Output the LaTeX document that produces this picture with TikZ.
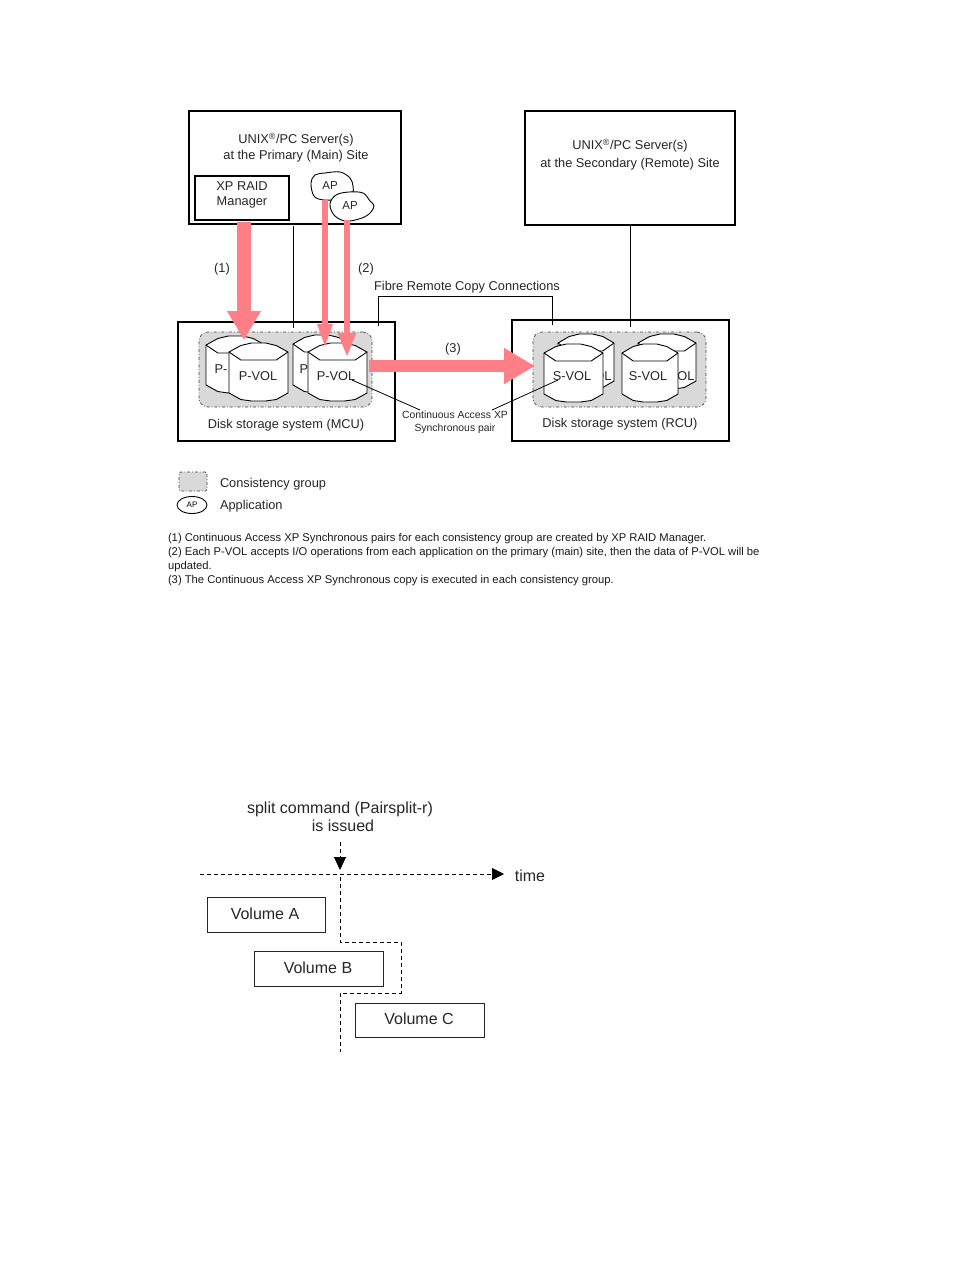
\documentclass[tikz,border=0pt]{standalone}
\usepackage{fontspec}
\setmainfont{Liberation Sans}
\usetikzlibrary{arrows.meta,shapes.geometric}
\definecolor{pinkarrow}{HTML}{FF7F86}
\definecolor{groupgray}{HTML}{D9D9D9}
\newcommand{\cylshape}[6]{%
  \pgfmathsetmacro{\cw}{#4-#2}%
  \pgfmathsetmacro{\cA}{#2+.2*\cw}\pgfmathsetmacro{\cB}{#2+.38*\cw}%
  \pgfmathsetmacro{\cC}{#2+.62*\cw}\pgfmathsetmacro{\cD}{#2+.8*\cw}%
  \pgfmathsetmacro{\tA}{#3+9}\pgfmathsetmacro{\tB}{#3+2.5}\pgfmathsetmacro{\tC}{#3+17}%
  \pgfmathsetmacro{\bA}{#5-8}\pgfmathsetmacro{\bB}{#5-1.5}%
  \draw[cylline] (#2,\tA) -- (\cA,\tB) -- (\cB,#3) -- (\cC,#3) -- (\cD,\tB) -- (#4,\tA)
    -- (#4,\bA) -- (\cD,\bB) -- (\cC,#5) -- (\cB,#5) -- (\cA,\bB) -- (#2,\bA) -- cycle;
  \draw[cylline,fill=none] (#2,\tA) -- (\cA,\tC) -- (\cD,\tC) -- (#4,\tA);
}
\tikzset{
  x=1pt,y=-1pt,
  txt/.style={inner sep=0pt,outer sep=0pt,align=center,yshift=-1pt,font=\fontsize{12.8}{15}\selectfont,text=black!85},
  heavybox/.style={draw=black,line width=1.9pt,fill=white,inner sep=0pt,outer sep=0pt},
  thinbox/.style={draw=black!85,line width=1pt,fill=white,inner sep=0pt,outer sep=0pt},
  group/.style={draw=black!75,fill=groupgray,line width=.7pt,dash dot,rounded corners=9pt,inner sep=0pt,outer sep=0pt},
  cylline/.style={draw=black,line width=.9pt,fill=white,line join=round},
  apblob/.style={draw=black,line width=.9pt,fill=white},
  aptext/.style={inner sep=0pt,outer sep=0pt,font=\fontsize{11.5}{13}\selectfont,text=black!85},
  apnode/.style={ellipse,draw=black,line width=.9pt,fill=white,inner sep=0pt,outer sep=0pt},
  link/.style={draw=black,line width=.8pt},
  bigarrow/.style={draw=pinkarrow,line width=#1},
  dashline/.style={draw=black,line width=.9pt,dash pattern=on 4pt off 3pt},
  note/.style={anchor=west,inner sep=0pt,outer sep=0pt,yshift=-1.5pt,font=\fontsize{11.25}{13}\selectfont,text=black!90},
  tl/.style={txt,font=\fontsize{16}{18}\selectfont},
}
\begin{document}
\begin{tikzpicture}
\useasboundingbox (0,0) rectangle (954,1270);
% server and storage boxes
\node[heavybox,minimum width=212pt,minimum height=113pt] (primary) at (295,167.5) {};
\node[heavybox,minimum width=210pt,minimum height=114pt] (secondary) at (630,168) {};
\node[heavybox,minimum width=217pt,minimum height=119pt] (mcu) at (286.5,381.5) {};
\node[heavybox,minimum width=217pt,minimum height=121pt] (rcu) at (620.5,380.5) {};
\node[txt] (ptext) at (296,147) {UNIX\textsuperscript{®}/PC Server(s)\\[1pt]at the Primary (Main) Site};
\node[txt] (stext) at (630,154) {UNIX\textsuperscript{®}/PC Server(s)\\[3pt]at the Secondary (Remote) Site};
\node[heavybox,minimum width=94pt,minimum height=44pt] (raid) at (242,198) {};
\node[txt] (raidtext) at (242,193.5) {XP RAID\\Manager};
% links
\coordinate (p1) at (293,226); \coordinate (m1) at (293,328);
\coordinate (s1) at (630,226); \coordinate (r1) at (630,327);
\coordinate (f1) at (378.5,326); \coordinate (f2) at (552,325);
\draw[link] (p1) -- (m1);
\draw[link] (s1) -- (r1);
\draw[link] (f1) |- (f2 |- 0,296) -- (f2);
\node[txt] (fibre) at (467,286) {Fibre Remote Copy Connections};
% groups
\node[group,minimum width=173pt,minimum height=75pt] (gl) at (285.5,369.5) {};
\node[group,minimum width=173pt,minimum height=75pt] (gr) at (619.5,369.5) {};
% back cylinders
\cylshape{b1}{206}{336}{265}{393}{}
\cylshape{b2}{293}{335}{350}{393}{}
\cylshape{b3}{558}{334}{614}{389}{}
\cylshape{b4}{638}{334}{696}{389}{}
\node[txt] (bt1) at (221,368) {P-};
\node[txt] (bt2) at (304,368) {P};
\node[txt] (bt3) at (603,375) {OL};
\node[txt] (bt4) at (686,375) {OL};
% front cylinders
\cylshape{f1}{229}{343}{288}{401}{}
\cylshape{f2}{308}{343}{367}{401}{}
\cylshape{f3}{544}{344}{603}{402}{}
\cylshape{f4}{622}{344}{678}{402}{}
% pair lines
\coordinate (pv) at (352,380); \coordinate (sv) at (558,380);
\coordinate (pa) at (420,410); \coordinate (pb) at (492,410);
\draw[link] (pv) -- (pa);
\draw[link] (sv) -- (pb);
\node[txt] (v1) at (258,375) {P-VOL};
\node[txt] (v2) at (336,375) {P-VOL};
\node[txt] (v3) at (572,375) {S-VOL};
\node[txt] (v4) at (648,375) {S-VOL};
% application nodes
\draw[apblob] plot[smooth cycle,tension=.6] coordinates {(311,183) (315,175) (325,173) (340,172) (350,178) (353,186) (352,194) (340,199) (324,200) (314,196)};
\node[aptext] (ap1) at (330,186) {AP};
\coordinate (a2s) at (325,200);
\coordinate (a3s) at (347,220);
\coordinate (r1s) at (244,222);
\coordinate (r1e) at (244,340);
\coordinate (a2e) at (325,348);
\coordinate (a3e) at (347,357);
\coordinate (c1) at (369,366);
\coordinate (c2) at (535,366);
\draw[bigarrow=14pt,-{Triangle[length=29pt,width=32pt]}] (r1s) -- (r1e);
\draw[bigarrow=5.5pt,-{Triangle[length=24pt,width=14pt]}] (a2s) -- (a2e);
\draw[apblob] plot[smooth cycle,tension=.6] coordinates {(330,204) (336,195) (349,192) (363,193) (370,201) (374,206) (369,214) (359,219) (345,221) (334,215)};
\node[aptext] (ap2) at (350,206) {AP};
\draw[bigarrow=5.5pt,-{Triangle[length=24pt,width=17pt]}] (a3s) -- (a3e);
\draw[bigarrow=12pt,-{Triangle[length=31pt,width=34pt]}] (c1) -- (c2);
% labels
\node[txt] (l1) at (222,268) {(1)};
\node[txt] (l2) at (366,268) {(2)};
\node[txt] (l3) at (453,348) {(3)};
\node[txt,font=\fontsize{10.4}{13}\selectfont] (pair) at (455,421) {Continuous Access XP\\Synchronous pair};
\node[txt] (mcut) at (286,424) {Disk storage system (MCU)};
\node[txt] (rcut) at (620,423) {Disk storage system (RCU)};
% legend
\node[group,rounded corners=1.5pt,minimum width=28pt,minimum height=19pt] (lg) at (193,481.5) {};
\node[txt,anchor=west] (lgt) at (220,483) {Consistency group};
\node[apnode,minimum width=30pt,minimum height=17pt,font=\fontsize{8}{9}\selectfont] (la) at (192,505) {AP};
\node[txt,anchor=west] (lat) at (220,505) {Application};
% notes
\node[note] (n1) at (168,537) {(1) Continuous Access XP Synchronous pairs for each consistency group are created by XP RAID Manager.};
\node[note] (n2) at (168,551) {(2) Each P-VOL accepts I/O operations from each application on the primary (main) site, then the data of P-VOL will be};
\node[note] (n3) at (168,565) {updated.};
\node[note] (n4) at (168,579) {(3) The Continuous Access XP Synchronous copy is executed in each consistency group.};
% timing diagram
\node[tl] (split) at (340,816) {split command (Pairsplit-r)\\\hspace*{6pt}is issued};
\node[tl] (time) at (530,875) {time};
\coordinate (ts) at (200,874); \coordinate (te) at (504,874);
\coordinate (ds) at (340,842); \coordinate (de) at (340,870);
\draw[dashline,-{Triangle[length=12pt,width=12pt]}] (ts) -- (te);
\draw[dashline,-{Triangle[length=13pt,width=12pt]}] (ds) -- (de);
\node[thinbox,minimum width=118pt,minimum height=35pt] (va) at (266,914.5) {};
\node[thinbox,minimum width=129pt,minimum height=35pt] (vb) at (318.5,968.5) {};
\node[thinbox,minimum width=129pt,minimum height=34pt] (vc) at (419.5,1020) {};
\node[tl] (vat) at (265,913) {Volume A};
\node[tl] (vbt) at (318,967) {Volume B};
\node[tl] (vct) at (419,1018) {Volume C};
\coordinate (d0) at (340,877); \coordinate (d1) at (401,942); \coordinate (d2) at (401,993); \coordinate (d3) at (340,1052);
\draw[dashline] (d0) |- (d1) -- (d2) -| (d3);
\end{tikzpicture}
\end{document}
